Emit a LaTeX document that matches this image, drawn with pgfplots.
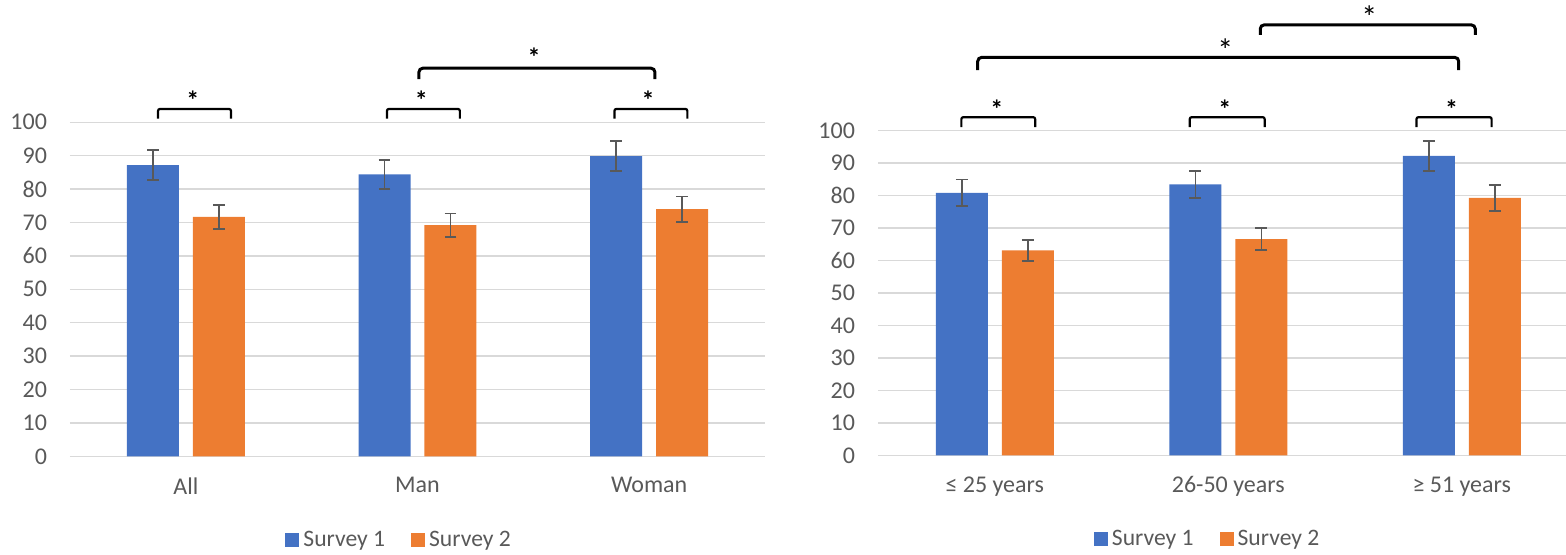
\documentclass[border=0pt]{standalone}
\usepackage{fontspec}
\setmainfont{Carlito}
\usepackage{pgfplots}
\pgfplotsset{compat=1.18}
\definecolor{sblue}{HTML}{4472C4}
\definecolor{sorange}{HTML}{ED7D31}
\definecolor{gridc}{HTML}{D9D9D9}
\definecolor{txt}{HTML}{595959}
\pgfplotsset{
 mystyle/.style={
  scale only axis, anchor=south west,
  ymin=0, ymax=100, ytick={0,10,...,100},
  ymajorgrids, grid style={gridc, line width=0.75pt},
  axis line style={draw=none}, tick style={draw=none},
  xtick={0,1,2},
  tick label style={font=\fontsize{12}{14}\selectfont, text=txt},
  /pgf/number format/assume math mode=true,
  yticklabel style={xshift=-8pt},
  xticklabel style={yshift=-7pt},
  clip=false,
  legend columns=2,
  legend style={draw=none, fill=none, font=\fontsize{11.8}{14}\selectfont, text=txt, anchor=center,
    /tikz/every even column/.append style={column sep=11pt}},
  legend image code/.code={\fill[##1] (0pt,-3.5pt) rectangle (7pt,3.5pt);},
 },
 mybar/.style={ybar, bar width=26pt, bar shift=0pt, draw=none, fill=#1,
   error bars/y dir=both, error bars/y explicit,
   error bars/error bar style={color=txt, line width=0.75pt},
   error bars/error mark options={rotate=90, mark size=2.9pt, color=txt, line width=0.75pt}},
 smallbr/.style={sharp plot, black, line width=1.1pt, rounded corners=1pt, forget plot},
 bigbr/.style={sharp plot, black, line width=1.5pt, rounded corners=2pt, forget plot},
}
\begin{document}
\begin{tikzpicture}
\useasboundingbox (0,0) rectangle (783pt,277.5pt);
% Left chart
\begin{axis}[mystyle, at={(35pt,49.35pt)}, width=347.5pt, height=167pt,
  xmin=-0.5, xmax=2.5, xticklabels={All,Man,Woman},
  legend style={at={(0.475,-0.252)}}]
\addplot[mybar=sblue] coordinates {(-0.1424,87.2) +- (0,4.5) (0.8576,84.4) +- (0,4.3) (1.8576,89.9) +- (0,4.55)};
\addplot[mybar=sorange] coordinates {(0.1424,71.7) +- (0,3.6) (1.1424,69.2) +- (0,3.55) (2.1424,74.0) +- (0,3.8)};
\legend{Survey 1, Survey 2}
\addplot[smallbr] coordinates {(-0.12,101.1) (-0.12,104.0) (0.195,104.0) (0.195,101.1)};
\addplot[smallbr] coordinates {(0.868,101.1) (0.868,104.0) (1.183,104.0) (1.183,101.1)};
\addplot[smallbr] coordinates {(1.85,101.1) (1.85,104.0) (2.165,104.0) (2.165,101.1)};
\addplot[bigbr] coordinates {(1.006,112.9) (1.006,116.2) (2.025,116.2) (2.025,112.9)};
\node[font=\fontsize{13}{13}\selectfont\bfseries, yshift=-2pt] at (axis cs:0.03,107.7) {*};
\node[font=\fontsize{13}{13}\selectfont\bfseries, yshift=-2pt] at (axis cs:1.017,107.7) {*};
\node[font=\fontsize{13}{13}\selectfont\bfseries, yshift=-2pt] at (axis cs:1.995,107.7) {*};
\node[font=\fontsize{13}{13}\selectfont\bfseries, yshift=-2pt] at (axis cs:1.503,120.7) {*};
\end{axis}
% Right chart
\begin{axis}[mystyle, at={(439pt,49.75pt)}, width=344.4pt, height=162.5pt,
  xmin=-0.5, xmax=2.45, xticklabels={≤ 25 years,26-50 years,≥ 51 years},
  legend style={at={(0.48,-0.258)}}]
\addplot[mybar=sblue] coordinates {(-0.1413,80.8) +- (0,4.05) (0.8587,83.4) +- (0,4.2) (1.8587,92.2) +- (0,4.6)};
\addplot[mybar=sorange] coordinates {(0.1413,63.1) +- (0,3.2) (1.1413,66.6) +- (0,3.35) (2.1413,79.3) +- (0,4.0)};
\legend{Survey 1, Survey 2}
\addplot[smallbr] coordinates {(-0.143,101.0) (-0.143,104.1) (0.173,104.1) (0.173,101.0)};
\addplot[smallbr] coordinates {(0.835,101.0) (0.835,104.1) (1.156,104.1) (1.156,101.0)};
\addplot[smallbr] coordinates {(1.806,101.0) (1.806,104.1) (2.128,104.1) (2.128,101.0)};
\addplot[bigbr] coordinates {(-0.073,118.6) (-0.073,122.5) (1.987,122.5) (1.987,118.6)};
\addplot[bigbr] coordinates {(1.137,129.4) (1.137,132.5) (2.058,132.5) (2.058,129.4)};
\node[font=\fontsize{13}{13}\selectfont\bfseries, yshift=-2pt] at (axis cs:0.009,107.8) {*};
\node[font=\fontsize{13}{13}\selectfont\bfseries, yshift=-2pt] at (axis cs:0.985,107.8) {*};
\node[font=\fontsize{13}{13}\selectfont\bfseries, yshift=-2pt] at (axis cs:1.957,107.8) {*};
\node[font=\fontsize{16}{16}\selectfont, yshift=-2pt] at (axis cs:0.987,125.8) {*};
\node[font=\fontsize{16}{16}\selectfont, yshift=-2pt] at (axis cs:1.604,136.0) {*};
\end{axis}
\end{tikzpicture}
\end{document}
